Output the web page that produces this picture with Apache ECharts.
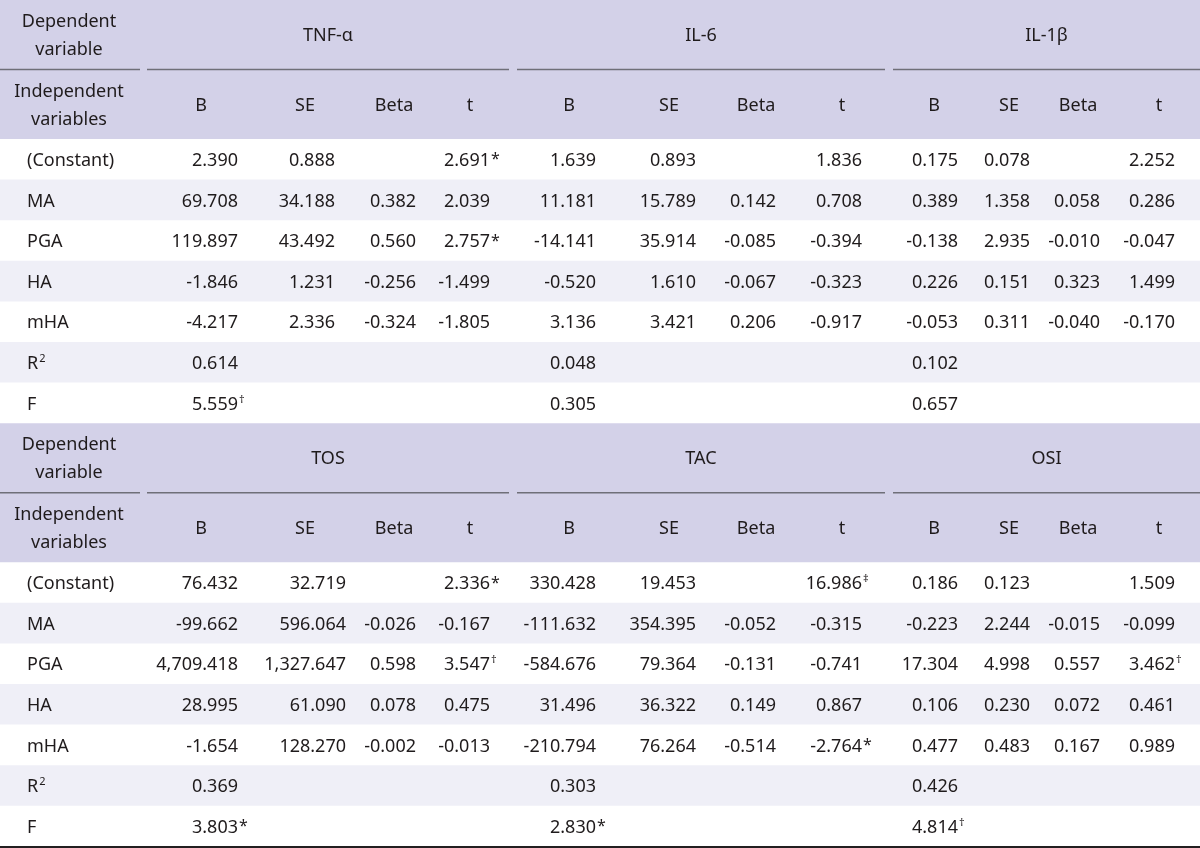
<!DOCTYPE html>
<html><head><meta charset="utf-8">
<script src="https://cdn.jsdelivr.net/npm/echarts@6/dist/echarts.min.js"></script>
<style>html,body{margin:0;padding:0;background:#fff}#c{width:1200px;height:848px}</style>
</head><body><div id="c"></div>
<script>
// ---------------- data ----------------
const rowLabels = ['(Constant)', 'MA', 'PGA', 'HA', 'mHA', 'R²', 'F'];
const statLabels = ['B', 'SE', 'Beta', 't'];
const headerDependent = ['Dependent', 'variable'];
const headerIndependent = ['Independent', 'variables'];
const depVarsTop = ['TNF-α', 'IL-6', 'IL-1β'];
const depVarsBottom = ['TOS', 'TAC', 'OSI'];

// rows follow rowLabels; columns follow statLabels (B, SE, Beta, t)
const tnfAlpha = [
  ['2.390', '0.888', '', '2.691*'],
  ['69.708', '34.188', '0.382', '2.039'],
  ['119.897', '43.492', '0.560', '2.757*'],
  ['-1.846', '1.231', '-0.256', '-1.499'],
  ['-4.217', '2.336', '-0.324', '-1.805'],
  ['0.614', '', '', ''],
  ['5.559†', '', '', '']
];
const il6 = [
  ['1.639', '0.893', '', '1.836'],
  ['11.181', '15.789', '0.142', '0.708'],
  ['-14.141', '35.914', '-0.085', '-0.394'],
  ['-0.520', '1.610', '-0.067', '-0.323'],
  ['3.136', '3.421', '0.206', '-0.917'],
  ['0.048', '', '', ''],
  ['0.305', '', '', '']
];
const il1b = [
  ['0.175', '0.078', '', '2.252'],
  ['0.389', '1.358', '0.058', '0.286'],
  ['-0.138', '2.935', '-0.010', '-0.047'],
  ['0.226', '0.151', '0.323', '1.499'],
  ['-0.053', '0.311', '-0.040', '-0.170'],
  ['0.102', '', '', ''],
  ['0.657', '', '', '']
];
const tos = [
  ['76.432', '32.719', '', '2.336*'],
  ['-99.662', '596.064', '-0.026', '-0.167'],
  ['4,709.418', '1,327.647', '0.598', '3.547†'],
  ['28.995', '61.090', '0.078', '0.475'],
  ['-1.654', '128.270', '-0.002', '-0.013'],
  ['0.369', '', '', ''],
  ['3.803*', '', '', '']
];
const tac = [
  ['330.428', '19.453', '', '16.986‡'],
  ['-111.632', '354.395', '-0.052', '-0.315'],
  ['-584.676', '79.364', '-0.131', '-0.741'],
  ['31.496', '36.322', '0.149', '0.867'],
  ['-210.794', '76.264', '-0.514', '-2.764*'],
  ['0.303', '', '', ''],
  ['2.830*', '', '', '']
];
const osi = [
  ['0.186', '0.123', '', '1.509'],
  ['-0.223', '2.244', '-0.015', '-0.099'],
  ['17.304', '4.998', '0.557', '3.462†'],
  ['0.106', '0.230', '0.072', '0.461'],
  ['0.477', '0.483', '0.167', '0.989'],
  ['0.426', '', '', ''],
  ['4.814†', '', '', '']
];

// ---------------- layout & style ----------------
const W = 1200, H = 848;
const FS = 18;
const FONT = '"Noto Sans", "Open Sans", sans-serif';
const TEXT = '#1f1b1c';
const HEAD_BG = '#d3d1e8';
const ALT_BG = '#efeff7';
const RULE = '#6f6f78';
const HEAD_H = 139, ROW_H = 40.6, RULE_Y = 69.5, TEXT_DY = 1.5;
const BLOCK_H = HEAD_H + rowLabels.length * ROW_H;
const statCenters = [201, 305, 394, 470, 569, 669, 756, 842, 934, 1009, 1078, 1159];
const ruleSegs = [[0, 140], [147, 509], [517, 885], [893, 1200]];
const LABEL_X = 27, HEAD_CX = 69;
const blocks = [
  { top: 0, deps: depVarsTop, tables: [tnfAlpha, il6, il1b],
    anchors: [238, 335, 416, 490, 596, 696, 776, 862, 958, 1030, 1100, 1175] },
  { top: BLOCK_H, deps: depVarsBottom, tables: [tos, tac, osi],
    anchors: [238, 346, 416, 490, 596, 696, 776, 862, 958, 1030, 1100, 1175] }
];

// ---------------- build element lists ----------------
const rects = [], rules = [], texts = [];
const splitMark = s => {
  const m = s.match(/^(.*?)([*†‡²]?)$/);
  return { main: m[1], mark: m[2] };
};
blocks.forEach(b => {
  rects.push({ x0: 0, y0: b.top, x1: W, y1: b.top + HEAD_H, fill: HEAD_BG });
  ruleSegs.forEach(s => rules.push({ x0: s[0], x1: s[1], y: b.top + RULE_Y, w: 1.4, c: RULE }));
  texts.push({ x: HEAD_CX, y: b.top + 20, text: headerDependent[0], align: 'center' });
  texts.push({ x: HEAD_CX, y: b.top + 48, text: headerDependent[1], align: 'center' });
  texts.push({ x: HEAD_CX, y: b.top + 90, text: headerIndependent[0], align: 'center' });
  texts.push({ x: HEAD_CX, y: b.top + 118, text: headerIndependent[1], align: 'center' });
  b.deps.forEach((d, i) => {
    const seg = ruleSegs[i + 1];
    texts.push({ x: (seg[0] + seg[1]) / 2, y: b.top + 34, text: d, align: 'center' });
    statLabels.forEach((s, j) => {
      texts.push({ x: statCenters[i * 4 + j], y: b.top + 104, text: s, align: 'center' });
    });
  });
  rowLabels.forEach((lab, r) => {
    const y0 = b.top + HEAD_H + r * ROW_H;
    if (r % 2 === 1) rects.push({ x0: 0, y0: y0, x1: W, y1: y0 + ROW_H, fill: ALT_BG });
    const cy = y0 + ROW_H / 2;
    const lm = splitMark(lab);
    texts.push({ x: LABEL_X, y: cy, text: lm.main, align: 'left', mark: lm.mark });
    b.tables.forEach((tbl, i) => {
      tbl[r].forEach((v, j) => {
        if (!v) return;
        const sm = splitMark(v);
        texts.push({ x: b.anchors[i * 4 + j], y: cy, text: sm.main, align: 'right', mark: sm.mark });
      });
    });
  });
});
rules.push({ x0: 0, x1: W, y: H - 1, w: 2, c: '#231f20' });

// text measurement for marks after left-aligned labels
const ctx = document.createElement('canvas').getContext('2d');
ctx.font = FS + 'px ' + FONT;

const chart = echarts.init(document.getElementById('c'), null, { renderer: 'canvas' });
chart.setOption({
  animation: false,
  grid: { left: 0, right: 0, top: 0, bottom: 0 },
  xAxis: { type: 'value', min: 0, max: W, show: false },
  yAxis: { type: 'value', min: 0, max: H, inverse: true, show: false },
  series: [
    {
      type: 'custom', silent: true, clip: false, z: 1,
      data: rects.map(r => [r.x0, r.y0]),
      renderItem: (params, api) => {
        const r = rects[params.dataIndex];
        const p0 = api.coord([r.x0, r.y0]), p1 = api.coord([r.x1, r.y1]);
        return { type: 'rect', shape: { x: p0[0], y: p0[1], width: p1[0] - p0[0], height: p1[1] - p0[1] },
          style: { fill: r.fill } };
      }
    },
    {
      type: 'custom', silent: true, clip: false, z: 2,
      data: rules.map(r => [r.x0, r.y]),
      renderItem: (params, api) => {
        const r = rules[params.dataIndex];
        const p0 = api.coord([r.x0, r.y]), p1 = api.coord([r.x1, r.y]);
        return { type: 'line', shape: { x1: p0[0], y1: p0[1], x2: p1[0], y2: p1[1] },
          style: { stroke: r.c, lineWidth: r.w } };
      }
    },
    {
      type: 'custom', silent: true, clip: false, z: 3,
      data: texts.map(t => [t.x, t.y]),
      renderItem: (params, api) => {
        const t = texts[params.dataIndex];
        const p = api.coord([t.x, t.y]);
        const y = p[1] + TEXT_DY;
        const children = [{
          type: 'text', x: p[0], y: y,
          style: { text: t.text, textAlign: t.align, textVerticalAlign: 'middle',
            font: FS + 'px ' + FONT, fill: TEXT }
        }];
        if (t.mark) {
          let mx = p[0] + 1;
          if (t.align === 'left') mx = p[0] + ctx.measureText(t.text).width + 1;
          const star = t.mark === '*';
          children.push({
            type: 'text', x: mx, y: y + (star ? -1 : -5),
            style: { text: t.mark === '²' ? '2' : t.mark, textAlign: 'left', textVerticalAlign: 'middle',
              font: (star ? 16 : 11) + 'px ' + FONT, fill: TEXT }
          });
        }
        return { type: 'group', children: children };
      }
    }
  ]
});
</script>
</body></html>
